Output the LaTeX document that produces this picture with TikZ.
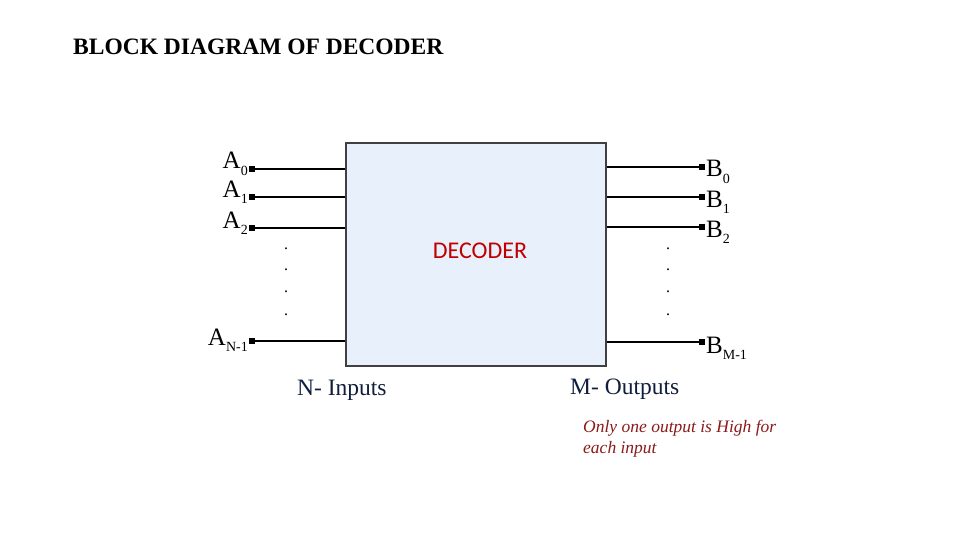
\documentclass[tikz,border=0pt]{standalone}
\usepackage{fontspec}
\setmainfont{Liberation Serif}
\newfontfamily\calib{Carlito}
\usetikzlibrary{positioning}
\definecolor{boxfill}{HTML}{E8F0FB}
\definecolor{boxline}{HTML}{404040}
\definecolor{navy}{HTML}{0F1E3C}
\definecolor{decred}{HTML}{C00000}
\definecolor{notered}{HTML}{8B1A1A}
\newcommand{\sig}[2]{#1\raisebox{-0.25em}{\fontsize{14}{14}\selectfont #2}}
\tikzset{
  term/.style={fill=black, inner sep=0pt, minimum size=5.5pt, draw=none},
  wire/.style={line width=1.7pt, black},
  lbl/.style={font=\fontsize{25}{25}\selectfont, inner sep=0pt},
  vdot/.style={font=\fontsize{16}{16}\selectfont, inner sep=0pt},
  captext/.style={font=\fontsize{23.5}{23.5}\selectfont, text=navy, inner sep=0pt, anchor=base west},
}
\begin{document}
\begin{tikzpicture}[x=1pt,y=-1pt]
\useasboundingbox (0,0) rectangle (960,540);
\node[anchor=base west, inner sep=0pt, font=\fontsize{23.5}{23.5}\selectfont\bfseries] (title) at (73,55) {BLOCK DIAGRAM OF DECODER};
\node[draw=boxline, line width=1.6pt, fill=boxfill, minimum width=260pt, minimum height=223pt, inner sep=0pt] (dec) at (476,254.5) {};
\node[font=\calib\fontsize{24}{24}\selectfont, text=decred] (dectext) at (480,251) {DECODER};
% input terminals
\node[term] (a0) at (252,169) {};
\node[term] (a1) at (252,197) {};
\node[term] (a2) at (252,228) {};
\node[term] (an) at (252,341) {};
\foreach \t in {a0,a1,a2,an} \draw[wire] (\t.center) -- (\t.center -| dec.west);
\node[lbl, anchor=base east] (la0) at (248,169) {\sig{A}{0}};
\node[lbl, anchor=base east] (la1) at (248,197) {\sig{A}{1}};
\node[lbl, anchor=base east] (la2) at (248,228) {\sig{A}{2}};
\node[lbl, anchor=base east] (lan) at (248,345) {\sig{A}{N-1}};
% output terminals
\node[term] (b0) at (702,167) {};
\node[term] (b1) at (702,197) {};
\node[term] (b2) at (702,227) {};
\node[term] (bm) at (702,342) {};
\foreach \t in {b0,b1,b2,bm} \draw[wire] (\t.center -| dec.east) -- (\t.center);
\node[lbl, anchor=base west] (lb0) at (706,177) {\sig{B}{0}};
\node[lbl, anchor=base west] (lb1) at (706,207) {\sig{B}{1}};
\node[lbl, anchor=base west] (lb2) at (706,237) {\sig{B}{2}};
\node[lbl, anchor=base west] (lbm) at (706,353) {\sig{B}{M-1}};
% dots
\foreach \y [count=\i] in {247,268,290,313} {
  \node[vdot, anchor=base] (ld\i) at (286,\y+2) {.};
  \node[vdot, anchor=base] (rd\i) at (668,\y+2) {.};
}
\node[captext] (nin) at (297,395) {N- Inputs};
\node[captext] (mout) at (570,394) {M- Outputs};
\node[anchor=base west, align=left, inner sep=0pt, text=notered, font=\fontsize{17.5}{21}\selectfont\itshape] (note) at (583,453) {Only one output is High for\\each input};
\end{tikzpicture}
\end{document}
